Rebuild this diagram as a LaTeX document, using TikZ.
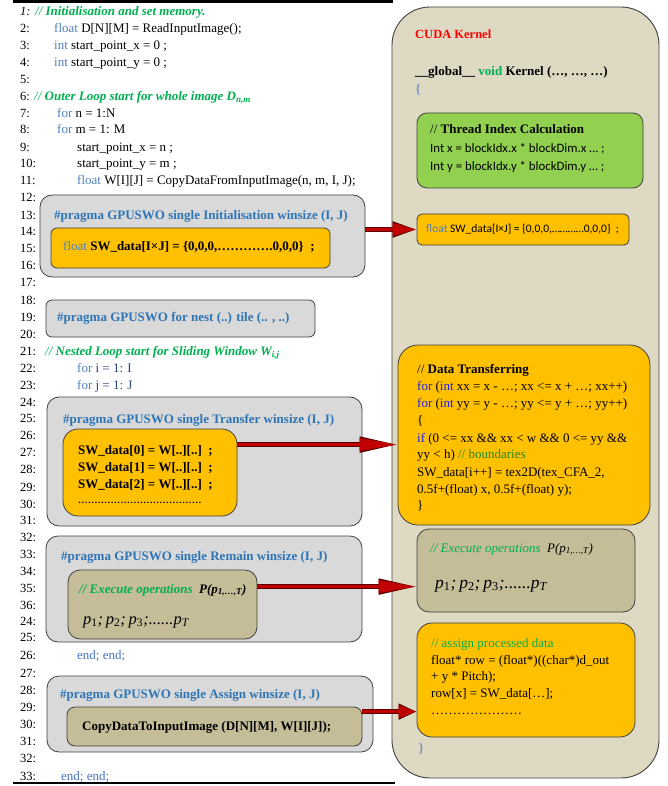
\documentclass[tikz,border=0pt]{standalone}
\usepackage{fontspec}
\setmainfont{Liberation Serif}
\newfontfamily\calfont{Carlito}
\usetikzlibrary{arrows.meta,fit,calc}
\definecolor{kw}{HTML}{4F81BD}
\definecolor{prag}{HTML}{2E75B6}
\definecolor{cmt}{HTML}{00B050}
\definecolor{endc}{HTML}{4472C4}
\definecolor{blu}{HTML}{2020E0}
\definecolor{dgreen}{HTML}{228B22}
\definecolor{boxgray}{HTML}{D9D9D9}
\definecolor{panel}{HTML}{DDD9C3}
\definecolor{orange1}{HTML}{FFC000}
\definecolor{khaki}{HTML}{C4BD97}
\definecolor{green1}{HTML}{92D050}
\definecolor{edge}{HTML}{404040}
\definecolor{arrowred}{HTML}{C00000}
\definecolor{arrowdark}{HTML}{5A0000}
\newcommand\fs{\fontsize{13}{15}\selectfont}
\newcommand\fsn{\fontsize{12.5}{15}\selectfont}
\tikzset{
  num/.style={anchor=base west, inner sep=0pt, font=\fsn},
  code/.style={anchor=base west, inner sep=0pt, font=\fs},
  rcode/.style={anchor=base west, inner sep=0pt, font=\fs},
  graybox/.style={draw=edge, fill=boxgray, line width=0.8pt, rounded corners=12pt, inner sep=0pt},
  orangebox/.style={draw=edge, fill=orange1, line width=0.8pt, rounded corners=#1, inner sep=0pt},
  khakibox/.style={draw=edge, fill=khaki, line width=0.8pt, rounded corners=#1, inner sep=0pt},
  redarrow/.style={line width=3.6pt, draw=arrowred, -{Triangle[length=#1,width=12pt]},
     preaction={draw=arrowdark, line width=5pt, -{Triangle[length=#1,width=15pt]}}}
}
\begin{document}
\begin{tikzpicture}[x=1pt,y=-1pt]
\useasboundingbox (0,0) rectangle (668,786);
% rules
\draw[line width=2.6pt] (13,1.5) -- (393,1.5);
\draw[line width=2pt] (13,783) -- (395,783);

% ---------- right panel ----------
\node[draw=edge, fill=panel, line width=0.9pt, rounded corners=38pt, inner sep=0pt, fit={(392,7) (659,778)}] (panel) {};
\node[draw=edge, fill=green1, line width=0.8pt, rounded corners=10pt, inner sep=0pt, fit={(417,113) (643,188)}] (thread) {};
\node[orangebox=5pt, fit={(417,214) (629,245)}] (swr) {};
\node[orangebox=20pt, fit={(398,345) (650,525)}] (dt) {};
\node[khakibox=12pt, fit={(417,529) (635,612)}] (exr) {};
\node[orangebox=15pt, fit={(417,623) (635,737)}] (asr) {};

\node[rcode, font=\fontsize{12.5}{14}\selectfont\bfseries, text=red] (cuda) at (415,39) {CUDA Kernel};
\node[rcode, font=\fs\bfseries] (glob) at (415,76) {\_\_global\_\_ {\color{cmt}void} Kernel (…, …, …)};
\node[rcode, text=endc] (ob) at (415,94) {\{};
\node[rcode] (th1) at (430,134) {// \textbf{Thread Index Calculation}};
\node[rcode, font=\calfont\fontsize{12.8}{14}\selectfont] (th2) at (430,153) {Int x = blockIdx.x * blockDim.x … ;};
\node[rcode, font=\calfont\fontsize{12.8}{14}\selectfont] (th3) at (430,171) {Int y = blockIdx.y * blockDim.y … ;};
\node[rcode, font=\calfont\fontsize{11.5}{13}\selectfont] (swt) at (426,233) {{\color{kw}float} SW\_data[I×J] = \{0,0,0,…………0,0,0\}~~;};

\node[rcode] (d1) at (417,373) {// \textbf{Data Transferring}};
\node[rcode] (d2) at (417,390) {{\color{blu}for} ({\color{blu}int} xx = x - …; xx <= x + …; xx++)};
\node[rcode] (d3) at (417,407) {{\color{blu}for} ({\color{blu}int} yy = y - …; yy <= y + …; yy++)};
\node[rcode] (d4) at (417,424) {\{};
\node[rcode] (d5) at (417,442) {{\color{blu}if} (0 <= xx \&\& xx < w \&\& 0 <= yy \&\&};
\node[rcode] (d6) at (417,458) {yy < h) {\color{dgreen}// boundaries}};
\node[rcode] (d7) at (417,476) {SW\_data[i++] = tex2D(tex\_CFA\_2,};
\node[rcode] (d8) at (417,493) {0.5f+(float) x, 0.5f+(float) y);};
\node[rcode] (d9) at (417,509) {\}};

\node[rcode, text=cmt, font=\fs\itshape] (e1) at (430,552) {// Execute operations~~{\color{black}\textit{P}(\textit{p}\textsubscript{\textit{1,…,T}})}};
\node[rcode, font=\fontsize{17.5}{20}\selectfont\itshape] (e2) at (435,588) {p\textsubscript{\upshape 1};\,p\textsubscript{\upshape 2};\,p\textsubscript{\upshape 3};......p\textsubscript{T}};

\node[rcode, text=cmt] (a1) at (431,647) {// assign processed data};
\node[rcode] (a2) at (431,664) {float* row = (float*)((char*)d\_out};
\node[rcode] (a3) at (431,680) {+ y * Pitch);};
\node[rcode] (a4) at (431,697) {row[x] = SW\_data[…];};
\node[rcode] (a5) at (431,714) {…………………};
\node[rcode, text=endc] (cb) at (418,752) {\}};

% ---------- left column boxes ----------
\node[graybox, fit={(40,195) (365,277)}] (initbox) {};
\node[orangebox=6pt, fit={(51,228) (330,268)}] (initin) {};
\node[graybox, fit={(46,300) (315,337)}, rounded corners=6pt] (nestbox) {};
\node[graybox, fit={(47,397) (362,526)}] (trbox) {};
\node[orangebox=15pt, fit={(63,429) (237,516)}] (trin) {};
\node[graybox, fit={(46,536) (362,642)}] (rmbox) {};
\node[khakibox=12pt, fit={(68,570) (257,639)}] (rmin) {};
\node[graybox, fit={(47,676) (373,752)}] (asbox) {};
\node[khakibox=8pt, fit={(67,707) (362,746)}] (asin) {};

% ---------- line numbers ----------
\node[num, font=\fsn\itshape] (n1) at (20,16) {1:};
\foreach \t/\y [count=\i] in {2:/33,3:/50,4:/67,5:/84,6:/101,7:/118,8:/134,9:/152,10:/168,11:/185,12:/202,13:/219,14:/236,15:/252,16:/269,17:/286,18:/304,19:/321,20:/338,21:/355,22:/372,23:/389,24:/406,25:/422,26:/439,27:/456,28:/473,29:/491,30:/508,31:/524,32:/541,33:/558,34:/575,35:/592,36:/609,24:/625,25:/641,26:/659,27:/677,28:/694,29:/711,30:/728,31:/745,32:/762,33:/780}
  \node[num] (n\i) at (20,\y) {\t};

% ---------- code ----------
\node[code, text=cmt, font=\fs\itshape] (c1) at (35,16) {// \textbf{Initialisation and set memory.}};
\node[code] (c2) at (54,33) {{\color{kw}float} D[N][M] = ReadInputImage();};
\node[code] (c3) at (54,50) {{\color{kw}int} start\_point\_x = 0 ;};
\node[code] (c4) at (54,67) {{\color{kw}int} start\_point\_y = 0 ;};
\node[code, text=cmt, font=\fs\itshape] (c6) at (34,101) {// \textbf{Outer Loop start for whole image D\textsubscript{n,m}}};
\node[code] (c7) at (57,118) {{\color{kw}for} n = 1:N};
\node[code] (c8) at (57,134) {{\color{kw}for} m = 1: M};
\node[code] (c9) at (77,152) {start\_point\_x = n ;};
\node[code] (c10) at (77,168) {start\_point\_y = m ;};
\node[code] (c11) at (77,185) {{\color{kw}float} W[I][J] = CopyDataFromInputImage(n, m, I, J);};
\node[code, text=cmt, font=\fs\itshape] (c21) at (45,355) {// \textbf{Nested Loop start for Sliding Window W\textsubscript{i,j}}};
\node[code] (c22) at (77,372) {{\color{kw}for} {\color{endc!60!black}i = 1: I}};
\node[code] (c23) at (77,389) {{\color{kw}for} {\color{endc!60!black}j = 1: J}};
\node[code, text=endc] (c26) at (77,659) {end; end;};
\node[code, text=endc] (c33) at (61,780) {end; end;};

\node[code, text=prag, font=\fs\bfseries] (p13) at (54,219) {\#pragma GPUSWO single Initialisation winsize (I, J)};
\node[code, font=\fs\bfseries] (i15) at (63,251) {{\mdseries\color{kw}float} SW\_data[I×J] = \{0,0,0,………….0,0,0\}~~;};
\node[code, text=prag, font=\fs\bfseries] (p19) at (57,321) {\#pragma GPUSWO for nest (..) tile (.. , ..)};
\node[code, text=prag, font=\fs\bfseries] (p25) at (63,423) {\#pragma GPUSWO single Transfer winsize (I, J)};
\node[code, font=\fs\bfseries] (t1) at (78,454) {SW\_data[0] = W[..][..]~~;};
\node[code, font=\fs\bfseries] (t2) at (78,471) {SW\_data[1] = W[..][..]~~;};
\node[code, font=\fs\bfseries] (t3) at (78,488) {SW\_data[2] = W[..][..]~~;};
\node[code] (t4) at (78,503) {......................................};
\node[code, text=prag, font=\fs\bfseries] (p33) at (61,560) {\#pragma GPUSWO single Remain winsize (I, J)};
\node[code, text=cmt, font=\fs\itshape\bfseries] (r1) at (79,593) {// Execute operations~~{\color{black}\textit{P}(\textit{p}\textsubscript{\textit{1,…,T}})}};
\node[code, font=\fontsize{16.5}{19}\selectfont\itshape] (r2) at (83,624) {p\textsubscript{\upshape 1};\,p\textsubscript{\upshape 2};\,p\textsubscript{\upshape 3};......p\textsubscript{T}};
\node[code, text=prag, font=\fs\bfseries] (p28) at (60,698) {\#pragma GPUSWO single Assign winsize (I, J)};
\node[code, font=\fs\bfseries] (as1) at (82,730) {CopyDataToInputImage (D[N][M], W[I][J]);};

% ---------- arrows ----------
\draw[redarrow=24pt] (initbox.east |- swr.west) -- (swr.west);
\coordinate (ta) at ($(trin.north east)+(0,16)$);
\draw[redarrow=38pt] (ta) -- (dt.west |- ta);
\coordinate (ra) at ($(rmin.north east)+(0,17)$);
\draw[redarrow=38pt] (ra) -- (exr.west |- ra);
\coordinate (aa) at ($(asin.north east)+(0,5)$);
\draw[redarrow=18pt] (aa) -- (asr.west |- aa);
\end{tikzpicture}
\end{document}
